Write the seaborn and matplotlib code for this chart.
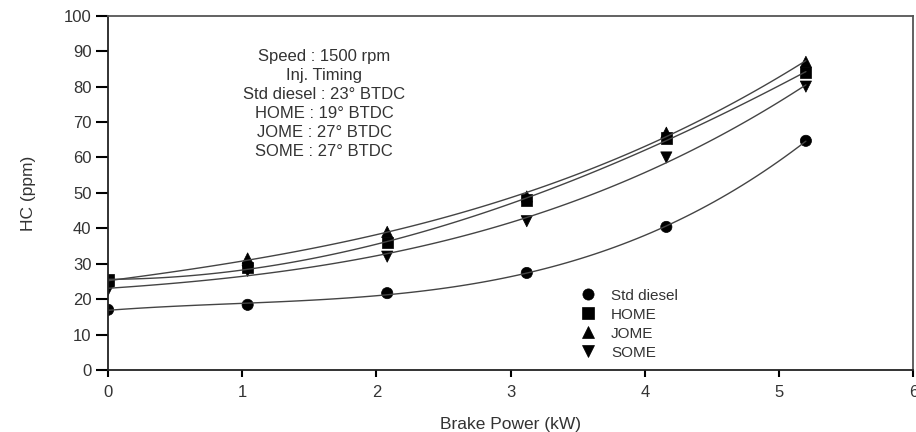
import numpy as np
import pandas as pd
import matplotlib
matplotlib.use("Agg")
import matplotlib.pyplot as plt
import seaborn as sns

# ==================== DATA ====================
brake_power = [0.0, 1.04, 2.08, 3.12, 4.16, 5.2]
hc_std_diesel = [17.0, 18.4, 21.7, 27.4, 40.4, 64.7]
hc_home = [25.4, 29.0, 36.0, 48.0, 65.5, 84.0]
hc_jome = [25.0, 31.5, 39.0, 49.0, 67.0, 87.0]
hc_some = [22.6, 28.0, 32.0, 42.0, 60.0, 80.0]
fuels = ['Std diesel', 'HOME', 'JOME', 'SOME']
fuel_markers = {'Std diesel': 'o', 'HOME': 's', 'JOME': '^', 'SOME': 'v'}
note_lines = ['Speed : 1500 rpm', 'Inj. Timing', 'Std diesel : 23° BTDC',
              'HOME : 19° BTDC', 'JOME : 27° BTDC', 'SOME : 27° BTDC']

df = pd.DataFrame({
    'bp': brake_power * 4,
    'hc': hc_std_diesel + hc_home + hc_jome + hc_some,
    'fuel': [f for f in fuels for _ in brake_power],
})

# ==================== PLOT ====================
sns.set_style('ticks')
plt.rcParams['font.family'] = ['Liberation Sans', 'DejaVu Sans']
TXT = '#333333'

fig = plt.figure(figsize=(9.16, 4.32), dpi=100)
ax = fig.add_axes([0.118, 0.1435, 0.879, 0.82])

# fitted trend lines
for fuel in fuels:
    sub = df[df['fuel'] == fuel]
    sns.regplot(data=sub, x='bp', y='hc', order=3, ci=None, scatter=False,
                ax=ax, color='#444444', line_kws={'lw': 1.0})

sns.scatterplot(data=df, x='bp', y='hc', style='fuel', markers=fuel_markers,
                color='black', s=65, edgecolor='black', linewidth=0.5, ax=ax)

ax.set_xlim(0, 6)
ax.set_ylim(0, 100)
ax.set_xticks(range(0, 7))
ax.set_yticks(range(0, 101, 10))
ax.set_xlabel('Brake Power (kW)', fontsize=12.5, color=TXT, labelpad=12)
ax.set_ylabel('HC (ppm)', fontsize=12.5, color=TXT, labelpad=20)
ax.tick_params(axis='both', labelsize=12, labelcolor=TXT, color='black',
               width=1.5, direction='out', bottom=True, left=True)
ax.tick_params(axis='y', length=9, pad=3)
ax.tick_params(axis='x', length=5, pad=6)

for side in ['left', 'bottom']:
    ax.spines[side].set_linewidth(1.3)
    ax.spines[side].set_color('#222222')
for side in ['top', 'right']:
    ax.spines[side].set_visible(True)
    ax.spines[side].set_linewidth(1.3)
    ax.spines[side].set_color('#555555')

ax.text(1.61, 90.5, '\n'.join(note_lines), ha='center', va='top', fontsize=12,
        color=TXT, linespacing=1.32)

leg = ax.legend(loc='lower left', bbox_to_anchor=(0.56, -0.01), frameon=False,
                fontsize=11, handletextpad=0.5, labelspacing=0.33, title=None)
for t in leg.get_texts():
    t.set_color(TXT)

plt.savefig('out.png', dpi=100)
